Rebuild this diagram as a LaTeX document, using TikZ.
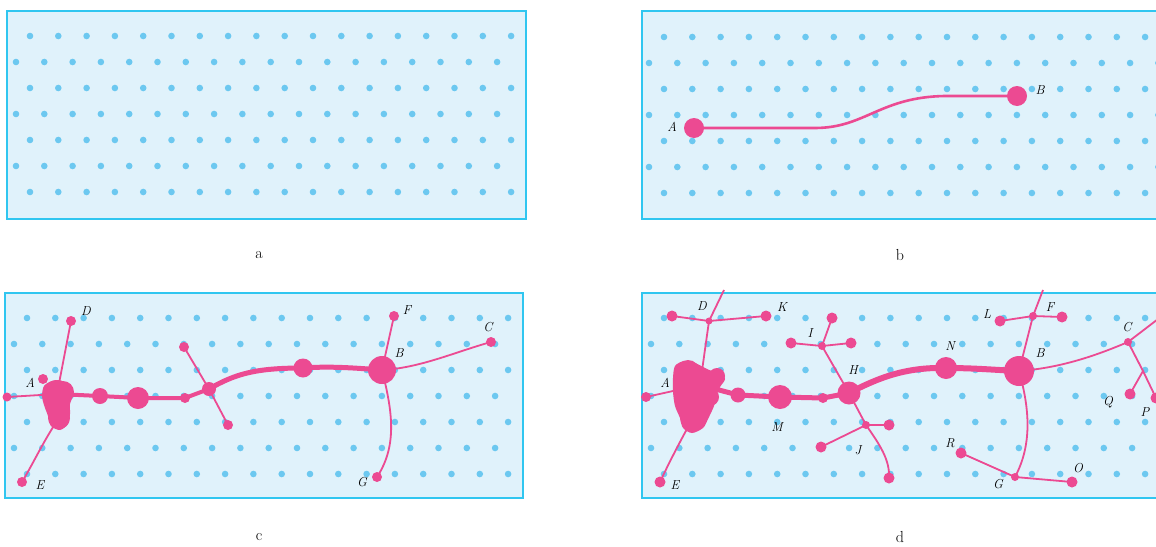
\documentclass[tikz,border=0pt]{standalone}
\definecolor{pfill}{RGB}{224,242,251}
\definecolor{pedge}{RGB}{48,198,240}
\definecolor{pdot}{RGB}{108,200,240}
\definecolor{nrv}{RGB}{236,74,146}
\newcommand\dotgrid[4]{%
  \foreach \r in {0,...,6}{%
    \pgfmathsetmacro\xs{mod(\r,2)==0 ? #1 : #2}%
    \foreach \k in {0,...,18}{%
      \pgfmathsetmacro\xx{\xs+28.3*\k}%
      \ifdim\xx pt<#4pt \fill[pdot] (\xx,#3+26*\r) circle[radius=3.3pt];\fi
    }}}
\begin{document}
\begin{tikzpicture}[x=1pt,y=-1pt,
  panel/.style={draw=pedge,fill=pfill,line width=2pt},
  bead/.style={circle,fill=nrv,inner sep=0pt,minimum size=#1},
  fib/.style={draw=nrv,line width=1.8pt},
  trunk/.style={draw=nrv,line width=#1,line cap=round,line join=round},
  lab/.style={font=\fontsize{13}{15}\selectfont\itshape,inner sep=0pt},
  capt/.style={font=\fontsize{16}{18}\selectfont,inner sep=0pt}]
\useasboundingbox (0,0) rectangle (1156,546);
\clip (0,0) rectangle (1156,546);
% panels
\draw[panel] (7,11) rectangle (526,219);
\draw[panel] (642,11) rectangle (1175,219);
\draw[panel] (5,293) rectangle (523,498);
\draw[panel] (642,293) rectangle (1175,498);
% dots
\dotgrid{30}{16}{36}{518}
\dotgrid{664}{649}{37}{1160}
\dotgrid{27}{14}{318}{516}
\dotgrid{664}{651}{318}{1160}
% captions
\node[capt] (ca) at (259,255) {a};
\node[capt] (cb) at (900,255) {b};
\node[capt] (cc) at (259,537) {c};
\node[capt] (cd) at (900,537) {d};
% ---------- panel b
\node[bead=20pt] (bA) at (694,128) {};
\node[bead=20pt] (bB) at (1017,96) {};
\draw[nrv,line width=2.6pt] (bA.center) -- (815,128) .. controls (865,128) and (880,97) .. (945,96) -- (bB.center);
\node[lab] (lbA) at (672,127) {A};
\node[lab] (lbB) at (1040,90) {B};
% ---------- panel c
\fill[nrv] plot[smooth cycle] coordinates {(44,386) (52,381) (62,381) (70,386) (73,395) (70,404) (70,414) (68,424) (60,430) (51,426) (48,416) (44,405) (42,396)};
\node[bead=9pt] (cL) at (7,397) {};
\node[bead=28pt] (cA) at (57,394) {};
\node[bead=22pt] (cAb) at (63,392) {};
\node[bead=22pt] (cA2) at (59,418) {};
\node[bead=10pt] (cA3) at (43,379) {};
\node[bead=10pt] (cD) at (71,321) {};
\node[bead=10pt] (cE) at (22,482) {};
\node[bead=16pt] (c1) at (100,396) {};
\node[bead=22pt] (c2) at (138,398) {};
\node[bead=10pt] (c3) at (185,398) {};
\node[bead=14pt] (c4) at (209,389) {};
\node[bead=10pt] (cu) at (184,347) {};
\node[bead=10pt] (cdn) at (228,425) {};
\node[bead=19pt] (c5) at (303,368) {};
\node[bead=28pt] (cB) at (382,370) {};
\node[bead=10pt] (cF) at (394,316) {};
\node[bead=10pt] (cC) at (491,342) {};
\node[bead=10pt] (cG) at (377,477) {};
\draw[fib] (cL.center) -- (cA.center);
\draw[fib] (cA.center) -- (cD.center);
\draw[fib] (cA2.center) .. controls (44,440) and (34,462) .. (cE.center);
\draw[trunk=4pt] (cA.center) -- (c1.center) -- (c2.center) -- (c3.center) -- (c4.center);
\draw[trunk=5pt] (c4.center) .. controls (235,374) and (255,368) .. (c5.center) .. controls (330,366) and (355,368) .. (cB.center);
\draw[fib] (cu.center) -- (c4.center) -- (cdn.center);
\draw[fib] (cB.center) -- (cF.center);
\draw[fib] (cB.center) .. controls (420,368) and (455,352) .. (cC.center);
\draw[fib] (cB.center) .. controls (392,410) and (398,445) .. (cG.center);
\node[lab] (lcA) at (30,383) {A};
\node[lab] (lcD) at (86,311) {D};
\node[lab] (lcE) at (40,485) {E};
\node[lab] (lcB) at (399,353) {B};
\node[lab] (lcF) at (407,310) {F};
\node[lab] (lcC) at (488,327) {C};
\node[lab] (lcG) at (362,482) {G};
% ---------- panel d
\fill[nrv] plot[smooth cycle] coordinates {(675,366) (684,361) (695,363) (705,368) (712,371) (720,372) (725,379) (720,387) (716,396) (714,406) (708,419) (703,428) (692,433) (683,428) (680,418) (675,406) (673,392) (673,378)};
\node[bead=10pt] (dL) at (646,397) {};
\node[bead=24pt] (dA2) at (688,372) {};
\node[bead=34pt] (dA1) at (700,385) {};
\node[bead=16pt] (dA3) at (717,376) {};
\node[bead=38pt] (dA4) at (694,400) {};
\node[bead=26pt] (dA5) at (693,418) {};
\node[bead=18pt] (dA6) at (710,397) {};
\node[bead=7pt] (dDj) at (709,321) {};
\coordinate (dDtop) at (724,290);
\node[bead=11pt] (dD) at (672,316) {};
\node[bead=11pt] (dK) at (766,316) {};
\node[bead=11pt] (dE) at (660,482) {};
\node[bead=15pt] (d1) at (738,395) {};
\node[bead=24pt] (dM) at (780,397) {};
\node[bead=10pt] (d3) at (823,398) {};
\node[bead=23pt] (dH) at (849,393) {};
\node[bead=8pt] (dIj) at (822,346) {};
\node[bead=11pt] (dIl) at (791,343) {};
\node[bead=11pt] (dIr) at (851,343) {};
\node[bead=11pt] (dIu) at (832,318) {};
\node[bead=8pt] (dJj) at (866,425) {};
\node[bead=11pt] (dJl) at (821,447) {};
\node[bead=11pt] (dJr) at (889,425) {};
\node[bead=11pt] (dJd) at (889,478) {};
\node[bead=22pt] (dN) at (946,368) {};
\node[bead=30pt] (dB) at (1019,371) {};
\node[bead=8pt] (dFj) at (1033,316) {};
\coordinate (dFtop) at (1043,290);
\node[bead=11pt] (dLn) at (1000,321) {};
\node[bead=11pt] (dFr) at (1062,317) {};
\node[bead=8pt] (dCj) at (1128,342) {};
\coordinate (dCtop) at (1162,316);
\coordinate (dPj) at (1143,371);
\node[bead=11pt] (dQ) at (1130,394) {};
\node[bead=11pt] (dP) at (1156,398) {};
\node[bead=8pt] (dGj) at (1015,477) {};
\node[bead=11pt] (dR) at (961,453) {};
\node[bead=11pt] (dO) at (1072,482) {};
\draw[fib] (dL.center) -- (dA1.center);
\draw[fib] (dA1.center) -- (dDj.center) -- (dDtop);
\draw[fib] (dD.center) -- (dDj.center) -- (dK.center);
\draw[fib] (dA5.center) .. controls (678,445) and (668,465) .. (dE.center);
\draw[trunk=5pt] (dA1.center) -- (d1.center) -- (dM.center) -- (d3.center) -- (dH.center);
\draw[trunk=6pt] (dH.center) .. controls (878,378) and (905,367) .. (dN.center) .. controls (975,368) and (995,370) .. (dB.center);
\draw[fib] (dH.center) -- (dIj.center);
\draw[fib] (dIl.center) -- (dIj.center) -- (dIr.center);
\draw[fib] (dIj.center) -- (dIu.center);
\draw[fib] (dH.center) -- (dJj.center);
\draw[fib] (dJl.center) -- (dJj.center) -- (dJr.center);
\draw[fib] (dJj.center) .. controls (880,445) and (890,460) .. (dJd.center);
\draw[fib] (dB.center) -- (dFj.center) -- (dFtop);
\draw[fib] (dLn.center) -- (dFj.center) -- (dFr.center);
\draw[fib] (dB.center) .. controls (1060,368) and (1095,356) .. (dCj.center) -- (dCtop);
\draw[fib] (dCj.center) -- (dPj) -- (dQ.center);
\draw[fib] (dPj) -- (dP.center);
\draw[fib] (dB.center) .. controls (1030,410) and (1032,445) .. (dGj.center);
\draw[fib] (dR.center) -- (dGj.center) -- (dO.center);
\node[lab] (ldA) at (665,383) {A};
\node[lab] (ldD) at (702,306) {D};
\node[lab] (ldK) at (782,307) {K};
\node[lab] (ldE) at (675,485) {E};
\node[lab] (ldM) at (777,427) {M};
\node[lab] (ldH) at (853,370) {H};
\node[lab] (ldI) at (810,333) {I};
\node[lab] (ldJ) at (858,450) {J};
\node[lab] (ldN) at (950,346) {N};
\node[lab] (ldB) at (1040,353) {B};
\node[lab] (ldL) at (987,314) {L};
\node[lab] (ldF) at (1050,307) {F};
\node[lab] (ldC) at (1127,327) {C};
\node[lab] (ldQ) at (1108,402) {Q};
\node[lab] (ldP) at (1145,412) {P};
\node[lab] (ldR) at (950,443) {R};
\node[lab] (ldG) at (998,484) {G};
\node[lab] (ldO) at (1078,468) {O};
\end{tikzpicture}
\end{document}
